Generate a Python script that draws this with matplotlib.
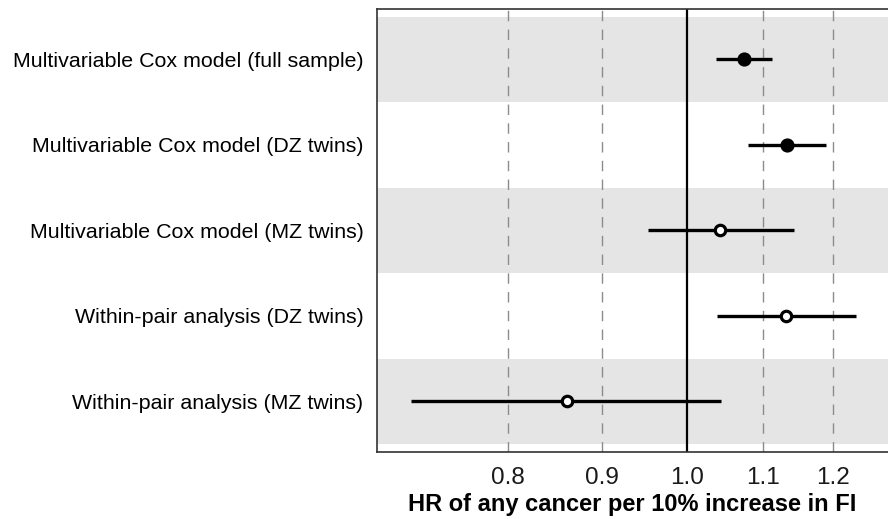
import numpy as np
import matplotlib.pyplot as plt
from matplotlib.ticker import FixedLocator, NullLocator

plt.rcParams['font.family'] = ['Liberation Sans', 'DejaVu Sans']

labels = ['Multivariable Cox model (full sample)',
          'Multivariable Cox model (DZ twins)',
          'Multivariable Cox model (MZ twins)',
          'Within-pair analysis (DZ twins)',
          'Within-pair analysis (MZ twins)']
hr = [1.074, 1.133, 1.042, 1.131, 0.861]
lower = [1.037, 1.079, 0.953, 1.038, 0.709]
upper = [1.112, 1.189, 1.143, 1.234, 1.043]
filled = [True, True, False, False, False]
xticks = [0.8, 0.9, 1.0, 1.1, 1.2]

fig = plt.figure(figsize=(8.88, 5.19), dpi=100)
ax = fig.add_axes([0.4249, 0.1297, 0.5751, 0.853])

y = np.arange(1, len(labels) + 1)

# alternating grey bands
for yi in y:
    if yi % 2 == 1:
        ax.axhspan(yi - 0.5, yi + 0.5, color='#e5e5e5', lw=0, zorder=0)

for t in xticks:
    if t == 1.0:
        ax.axvline(t, color='black', lw=1.6, zorder=1)
    else:
        ax.axvline(t, color='#8c8c8c', lw=1.0, dashes=(7.5, 6), zorder=1)

for yi, m, lo, hi, f in zip(y, hr, lower, upper, filled):
    ax.plot([lo, hi], [yi, yi], color='black', lw=2.4, solid_capstyle='butt', zorder=2)
    if f:
        ax.plot(m, yi, 'o', ms=9.2, color='black', zorder=3)
    else:
        ax.plot(m, yi, 'o', ms=7.5, mfc='white', mec='black', mew=2.3, zorder=3)

ax.set_xscale('log')
ax.set_xlim(0.680, 1.285)
ax.set_ylim(5.59, 0.41)
ax.xaxis.set_major_locator(FixedLocator(xticks))
ax.xaxis.set_minor_locator(NullLocator())
ax.set_xticklabels(['0.8', '0.9', '1.0', '1.1', '1.2'], fontsize=17.5, color='#1a1a1a')
ax.set_yticks(y)
ax.set_yticklabels(labels, fontsize=15.4, color='black')
ax.tick_params(axis='both', length=0)
ax.tick_params(axis='y', pad=10)
ax.tick_params(axis='x', pad=11)
ax.set_xlabel('HR of any cancer per 10% increase in FI', fontsize=17, fontweight='bold', labelpad=3)

for s in ['left', 'top', 'bottom']:
    ax.spines[s].set_color('#333333')
    ax.spines[s].set_linewidth(1.2)
ax.spines['right'].set_visible(False)

fig.savefig('out.png', dpi=100)
